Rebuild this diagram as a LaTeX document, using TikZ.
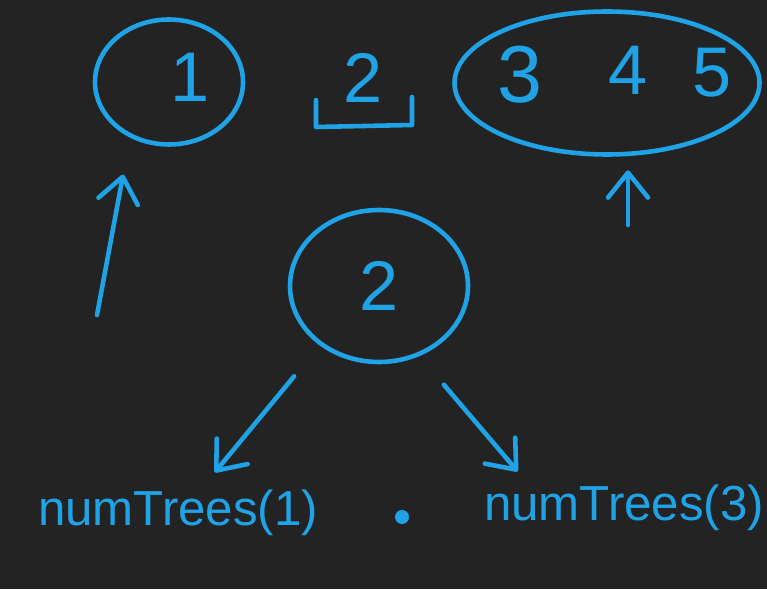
\documentclass[tikz,border=0pt]{standalone}
\usepackage{fontspec}
\setmainfont{Liberation Sans}
\usetikzlibrary{shapes.geometric, arrows.meta, positioning, calc}
\definecolor{boardcolor}{HTML}{232323}
\definecolor{inkcolor}{HTML}{1FA3E6}

\begin{document}
\begin{tikzpicture}[
    ink/.style={draw=inkcolor, line width=2.6pt, line cap=round, line join=round},
    loop/.style={ellipse, ink, inner sep=0pt},
    digit/.style={text=inkcolor, inner sep=0pt, font=\fontsize{40}{40}\selectfont},
    bigdigit/.style={digit, font=\fontsize{46}{46}\selectfont},
    call/.style={text=inkcolor, inner sep=0pt, font=\fontsize{28}{28}\selectfont},
    arrow/.style={ink, -{Straight Barb[length=5mm, width=8mm, round]}}
]
    % Board
    \useasboundingbox (0,0) rectangle (15.34,11.78);
    \fill[boardcolor] (0,0) rectangle (15.34,11.78);

    % Left subtree: 1
    \node[loop, minimum width=2.96cm, minimum height=2.5cm] (one) at (3.38,10.14) {};
    \node[digit] (d1) at ([xshift=0.42cm, yshift=0.1cm]one.center) {1};

    % Root value in its slot
    \node[digit] (two) at (7.26,10.22) {2};
    \draw[ink] ([xshift=-0.94cm, yshift=-0.44cm]two.center) -- ++(0,-0.54)
        -- ++(1.92,0.04) -- ++(0,0.56);

    % Right subtree: 3 4 5
    \node[loop, minimum width=6.1cm, minimum height=2.86cm] (rest) at (12.14,10.12) {};
    \node[bigdigit] (n3) at ([xshift=-1.74cm, yshift=0.16cm]rest.center) {3};
    \node[digit] (n4) at ([xshift=0.42cm, yshift=0.26cm]rest.center) {4};
    \node[digit] (n5) at ([xshift=2.1cm, yshift=0.2cm]rest.center) {5};

    % Root
    \node[loop, minimum width=3.56cm, minimum height=3.04cm, digit] (root) at (7.58,6.06) {2};

    % Products
    \node[call] (nt1) at (3.56,1.52) {numTrees(1)};
    \node[circle, fill=inkcolor, inner sep=0pt, minimum size=0.28cm] (dot) at (8.04,1.44) {};
    \node[call] (nt3) at (12.48,1.62) {numTrees(3)};

    % Arrows
    \coordinate (base1) at (1.94,5.48);
    \coordinate (base2) at (12.56,7.28);
    \draw[arrow, shorten >=0.75cm] (base1) -- (one.235);
    \draw[arrow, shorten >=0.27cm] (base2) -- (base2 |- rest.south);
    \draw[arrow, shorten <=0.8cm, shorten >=0.45cm] (root.225) -- ([xshift=0.45cm]nt1.north);
    \draw[arrow, shorten <=0.75cm, shorten >=0.35cm] (root.300) -- ([xshift=-1.9cm]nt3.north);

\end{tikzpicture}
\end{document}
